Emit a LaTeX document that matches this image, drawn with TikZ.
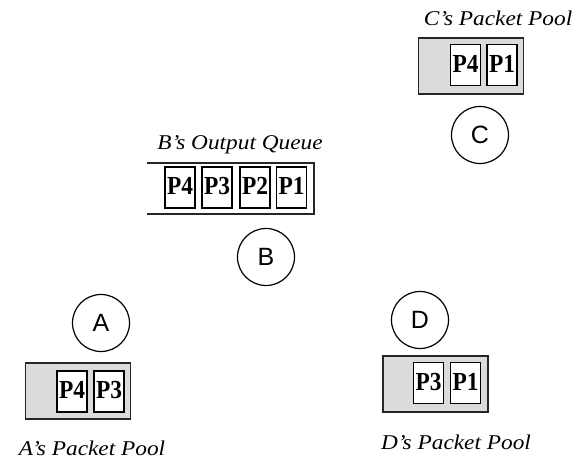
\documentclass[tikz,border=0pt]{standalone}
\usepackage{fontspec}
\usepackage{graphicx}
\setmainfont{Liberation Serif}
\newfontfamily\sansf{Liberation Sans}
\begin{document}
\begin{tikzpicture}[x=1pt,y=-1pt,
  pool/.style={draw=black!85,fill=black!14,line width=1.3pt,minimum width=105pt,minimum height=56pt,inner sep=0pt},
  pkt/.style={draw=black,fill=white,line width=1.2pt,minimum width=30pt,minimum height=41pt,inner sep=0pt,
    text depth=3pt,font=\fontsize{26}{26}\selectfont\bfseries},
  router/.style={circle,draw=black,line width=1.2pt,minimum size=57pt,inner sep=0pt,
    font=\sansf\fontsize{25}{25}\selectfont},
  lbl/.style={inner sep=0pt,font=\fontsize{21}{21}\selectfont\itshape},
  qline/.style={draw=black!85,line width=1.3pt}]
\useasboundingbox (0,0) rectangle (579,465);
% C
\node[lbl] (lc) at (498,18) {\scalebox{1.11}[1]{C's Packet Pool}};
\node[pool] (pc) at (471,66) {};
\node[pkt] (c4) at (465.5,65) {\scalebox{0.9}[1]{P4}};
\node[pkt] (c1) at (502,65) {\scalebox{0.9}[1]{P1}};
\node[router] (C) at (480,135) {C};
% B
\node[lbl] (lb) at (240,145) {\scalebox{1.11}[1]{B's Output Queue}};
\coordinate (qtl) at (147,163);
\coordinate (qtr) at (314,163);
\coordinate (qbr) at (314,214);
\coordinate (qbl) at (147,214);
\draw[qline] (qtl) -- (qtr) -- (qbr) -- (qbl);
\node[pkt] (b4) at (180,187.5) {\scalebox{0.9}[1]{P4}};
\node[pkt] (b3) at (217,187.5) {\scalebox{0.9}[1]{P3}};
\node[pkt] (b2) at (255,187.5) {\scalebox{0.9}[1]{P2}};
\node[pkt] (b1) at (291.5,187.5) {\scalebox{0.9}[1]{P1}};
\node[router] (B) at (266,257) {B};
% A
\node[router] (A) at (101,323) {A};
\node[pool] (pa) at (78,391) {};
\node[pkt] (a4) at (72,391.5) {\scalebox{0.9}[1]{P4}};
\node[pkt] (a3) at (109,391.5) {\scalebox{0.9}[1]{P3}};
\node[lbl] (la) at (92,448) {\scalebox{1.11}[1]{A's Packet Pool}};
% D
\node[router] (D) at (420,320) {D};
\node[pool] (pd) at (435.5,384) {};
\node[pkt] (d3) at (428.5,383) {\scalebox{0.9}[1]{P3}};
\node[pkt] (d1) at (465.5,383) {\scalebox{0.9}[1]{P1}};
\node[lbl] (ld) at (456,442) {\scalebox{1.11}[1]{D's Packet Pool}};
\end{tikzpicture}
\end{document}
